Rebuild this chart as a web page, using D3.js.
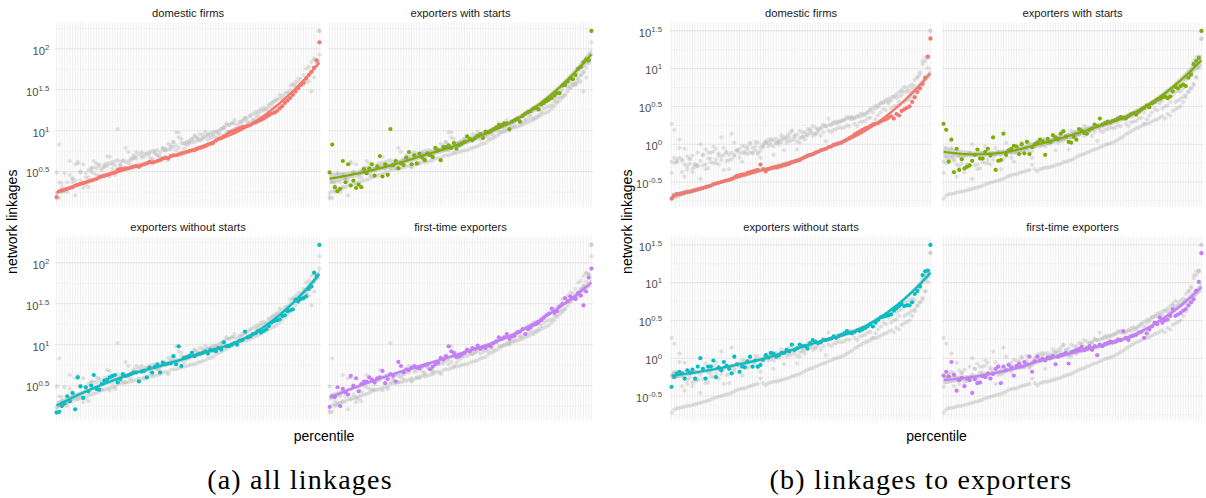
<!DOCTYPE html>
<html>
<head>
<meta charset="utf-8">
<script src="https://cdn.jsdelivr.net/npm/d3@7/dist/d3.min.js"></script>
<style>
body { margin: 0; background: #fff; }
svg { font-family: "Liberation Sans", Arial, sans-serif; }
.strip { font-size: 11.2px; fill: #1a1a1a; }
.tick_lab { font-size: 11.2px; fill: #4d4d4d; }
.axis_title { font-size: 14px; fill: #000; }
.caption { font-family: "Liberation Serif", "Times New Roman", serif; font-size: 28px; fill: #000; letter-spacing: 1.2px; }
</style>
</head>
<body>
<svg id="chart" width="1206" height="498"></svg>
<script>
/* Data: log10 of network linkages by percentile */

var percentile = d3.range(1, 101);
var group_names = ["domestic firms", "exporters with starts", "exporters without starts", "first-time exporters"];
var group_colors = ["#F8766D", "#7CAE00", "#00BFC4", "#C77CFF"];

var a_domestic = [0.19,0.26,0.27,0.28,0.29,0.30,0.31,0.33,0.34,0.35, 0.36,0.37,0.38,0.39,0.40,0.41,0.43,0.44,0.45,0.46,
	0.47,0.48,0.49,0.52,0.53,0.53,0.54,0.54,0.55,0.56, 0.57,0.56,0.58,0.59,0.60,0.62,0.61,0.62,0.63,0.64,
	0.66,0.67,0.66,0.69,0.70,0.70,0.71,0.72,0.73,0.74, 0.75,0.76,0.76,0.78,0.79,0.80,0.81,0.83,0.84,0.85,
	0.88,0.90,0.91,0.93,0.95,0.98,0.99,1.00,1.02,1.03, 1.04,1.05,1.06,1.07,1.09,1.10,1.12,1.13,1.15,1.17,
	1.19,1.21,1.22,1.24,1.27,1.30,1.34,1.37,1.40,1.44, 1.48,1.52,1.56,1.59,1.64,1.68,1.72,1.77,1.86,2.08];
var a_with_starts = [0.49,0.83,0.31,0.26,0.29,0.63,0.37,0.59,0.33,0.39, 0.30,0.34,0.31,0.53,0.48,0.54,0.59,0.45,0.56,0.69,
	0.44,0.59,0.46,1.02,0.58,0.63,0.54,0.60,0.58,0.67, 0.74,0.59,0.70,0.60,0.72,0.67,0.64,0.72,0.70,0.68,
	0.79,0.76,0.64,0.80,0.80,0.82,0.79,0.85,0.78,0.82, 0.84,0.86,0.93,0.90,0.88,0.91,0.94,0.96,0.91,0.99,
	0.98,1.00,1.02,1.04,1.07,1.07,1.09,1.09,1.02,1.11, 1.13,1.14,1.11,1.18,1.21,1.23,1.24,1.27,1.28,1.26,
	1.32,1.34,1.36,1.38,1.40,1.43,1.46,1.46,1.55,1.56, 1.60,1.64,1.63,1.68,1.76,1.78,1.84,1.87,1.86,2.22];
var a_without_starts = [0.17,0.18,0.25,0.28,0.37,0.31,0.41,0.21,0.60,0.49, 0.35,0.48,0.43,0.50,0.63,0.46,0.45,0.52,0.56,0.57,
	0.60,0.62,0.63,0.54,0.58,0.64,0.62,0.63,0.64,0.66, 0.66,0.55,0.67,0.68,0.60,0.72,0.66,0.73,0.76,0.66,
	0.78,0.76,0.77,0.77,0.86,0.76,0.98,0.74,0.84,0.85, 0.86,0.90,0.86,0.88,0.89,0.90,0.92,0.89,0.94,0.93,
	0.92,0.96,0.94,1.03,0.98,0.98,1.00,1.02,1.00,1.05, 1.06,1.16,1.09,1.10,1.13,1.14,1.17,1.15,1.17,1.19,
	1.23,1.27,1.29,1.30,1.31,1.35,1.36,1.41,1.42,1.43, 1.55,1.53,1.56,1.57,1.59,1.68,1.71,1.88,1.84,2.22];
var a_first_time = [0.24,0.37,0.36,0.48,0.25,0.46,0.42,0.39,0.62,0.50, 0.59,0.43,0.52,0.55,0.55,0.60,0.57,0.54,0.59,0.60,
	0.68,0.53,0.58,0.64,0.62,0.55,0.79,0.74,0.66,0.70, 0.69,0.72,0.74,0.72,0.71,0.74,0.75,0.76,0.70,0.73,
	0.76,0.78,0.84,0.82,0.86,0.98,0.92,0.90,0.85,0.86, 0.88,0.90,0.94,0.92,0.96,0.95,0.99,0.95,0.97,0.96,
	0.99,0.98,1.02,1.04,1.09,1.07,1.09,1.13,1.07,1.10, 1.11,1.15,1.16,1.19,1.13,1.19,1.21,1.24,1.25,1.27,
	1.30,1.33,1.36,1.38,1.44,1.39,1.41,1.47,1.50,1.57, 1.53,1.59,1.57,1.56,1.63,1.60,1.48,1.65,1.82,1.93];

var b_domestic = [-0.72,-0.68,-0.66,-0.66,-0.65,-0.64,-0.63,-0.63,-0.62,-0.61, -0.60,-0.59,-0.58,-0.57,-0.56,-0.55,-0.53,-0.52,-0.51,-0.50,
	-0.49,-0.48,-0.47,-0.46,-0.44,-0.42,-0.41,-0.40,-0.40,-0.38, -0.37,-0.36,-0.35,-0.34,-0.27,-0.33,-0.36,-0.33,-0.32,-0.31,
	-0.31,-0.30,-0.29,-0.28,-0.27,-0.26,-0.24,-0.23,-0.22,-0.21, -0.19,-0.17,-0.15,-0.14,-0.13,-0.11,-0.10,-0.08,-0.07,-0.06,
	-0.04,-0.03,-0.01,0.00,0.01,0.02,0.04,0.06,0.08,0.10, 0.13,0.15,0.17,0.19,0.21,0.22,0.24,0.26,0.27,0.28,
	0.30,0.32,0.33,0.35,0.37,0.34,0.40,0.38,0.44,0.46, 0.48,0.50,0.56,0.62,0.69,0.74,0.80,0.88,1.16,1.40];
var b_with_starts = [0.27,0.19,-0.23,0.06,-0.37,-0.06,-0.34,-0.20,-0.32,-0.30, -0.28,-0.22,-0.14,-0.07,-0.19,-0.19,-0.10,-0.06,-0.15,0.09,
	-0.34,-0.22,-0.21,0.14,-0.14,-0.08,-0.06,-0.02,-0.03,-0.13, 0.00,-0.12,0.03,-0.13,-0.04,0.00,0.02,0.06,0.04,-0.14,
	0.07,0.03,0.12,0.09,0.07,0.14,0.17,0.10,0.03,0.02, 0.10,0.06,0.20,0.18,0.15,0.14,0.19,0.21,0.26,0.24,
	0.34,0.26,0.28,0.30,0.29,0.31,0.32,0.34,0.36,0.35, 0.34,0.37,0.40,0.41,0.39,0.43,0.46,0.48,0.51,0.49,
	0.54,0.56,0.59,0.60,0.62,0.63,0.61,0.63,0.70,0.76, 0.74,0.77,0.79,0.77,0.88,0.92,1.06,1.10,1.14,1.50];
var b_without_starts = [-0.38,-0.25,-0.20,-0.18,-0.20,-0.27,-0.16,-0.19,-0.15,-0.27, -0.11,0.00,-0.14,-0.27,-0.11,-0.11,-0.03,-0.25,-0.12,-0.16,
	-0.05,-0.10,-0.14,-0.20,0.02,-0.08,-0.18,-0.11,-0.12,-0.04, 0.02,-0.11,-0.03,-0.11,-0.09,-0.02,0.04,0.01,0.07,0.06,
	0.02,0.04,0.07,0.07,0.11,0.09,0.18,0.11,0.13,0.18, 0.16,0.16,0.13,0.20,0.24,0.22,0.20,0.21,0.24,0.24,
	0.25,0.26,0.29,0.27,0.30,0.31,0.33,0.36,0.34,0.33, 0.35,0.37,0.36,0.38,0.40,0.42,0.45,0.42,0.47,0.51,
	0.54,0.55,0.56,0.57,0.58,0.63,0.66,0.69,0.72,0.69, 0.70,0.70,0.74,0.85,0.89,0.95,1.10,1.15,1.16,1.50];
var b_first_time = [-0.23,-0.18,-0.24,-0.05,-0.22,-0.43,-0.29,-0.26,-0.37,-0.27, -0.29,-0.46,-0.28,-0.33,-0.32,-0.24,-0.25,-0.20,-0.27,-0.21,
	-0.14,-0.11,-0.33,-0.11,-0.16,-0.09,-0.12,-0.23,-0.10,-0.07, -0.11,-0.05,-0.08,0.02,-0.18,-0.04,0.02,-0.03,-0.01,-0.03,
	0.01,0.00,0.03,-0.08,0.02,0.04,0.05,0.07,-0.07,0.08, 0.09,0.11,0.12,0.15,0.11,0.13,0.16,0.11,0.16,0.04,
	0.18,0.16,0.19,0.20,0.22,0.21,0.22,0.25,0.24,0.36, 0.27,0.24,0.29,0.30,0.31,0.34,0.35,0.27,0.33,0.38,
	0.42,0.47,0.45,0.54,0.47,0.50,0.51,0.56,0.65,0.56, 0.58,0.60,0.63,0.65,0.70,0.74,0.78,0.89,1.01,1.39];

var a_ticks = [0.5, 1, 1.5, 2];
var b_ticks = [-0.5, 0, 0.5, 1, 1.5];

/* Layout */

var svg = d3.select("#chart");
var rows = [[22.5, 207], [236.5, 421]];
var panels = [
	{series: [a_domestic, a_with_starts, a_without_starts, a_first_time], ticks: a_ticks,
	 cols: [[55, 321], [328, 593]], lab_gap: 5.7, caption: "(a) all linkages", cap_x: 300, ytitle_x: 16.7},
	{series: [b_domestic, b_with_starts, b_without_starts, b_first_time], ticks: b_ticks,
	 cols: [[670, 932], [942, 1203]], lab_gap: 8, caption: "(b) linkages to exporters", cap_x: 921, ytitle_x: 631.5}
];

/* Loess (degree 2, tricube weights, span 0.75) as geom_smooth does */

function inv3(m){
	var a = m[0][0], b = m[0][1], c = m[0][2],
	    d = m[1][0], e = m[1][1], f = m[1][2],
	    g = m[2][0], h = m[2][1], k = m[2][2];
	var A = e*k - f*h, B = -(d*k - f*g), C = d*h - e*g;
	var det = a*A + b*B + c*C;
	return [[A/det, -(b*k - c*h)/det, (b*f - c*e)/det],
		[B/det, (a*k - c*g)/det, -(a*f - c*d)/det],
		[C/det, -(a*h - b*g)/det, (a*e - b*d)/det]];
}

function loess_row(xs, x0, span){
	var n = xs.length, q = Math.floor(span*n);
	var d = xs.map(function(x){ return Math.abs(x - x0); });
	var h = d.slice().sort(function(p, r){ return p - r; })[q-1];
	var w = d.map(function(v){ var u = v/h; return u < 1 ? Math.pow(1 - u*u*u, 3) : 0; });
	var S = [[0,0,0],[0,0,0],[0,0,0]];
	for (var i = 0; i < n; i++){
		var t = xs[i] - x0, b = [1, t, t*t];
		for (var r = 0; r < 3; r++)
			for (var c = 0; c < 3; c++)
				S[r][c] += w[i]*b[r]*b[c];
	}
	var inv = inv3(S);
	var l = [];
	for (var i = 0; i < n; i++){
		var t = xs[i] - x0;
		l.push(w[i]*(inv[0][0] + inv[0][1]*t + inv[0][2]*t*t));
	}
	return l;
}

function smooth(xs, ys){
	var n = xs.length, rss = 0, delta = 0;
	var L = xs.map(function(x){ return loess_row(xs, x, 0.75); });
	for (var i = 0; i < n; i++){
		var fit = d3.sum(L[i], function(v, j){ return v*ys[j]; });
		rss += (ys[i] - fit)*(ys[i] - fit);
	}
	// one.delta = trace((I-L)'(I-L))
	for (var j = 0; j < n; j++)
		for (var i = 0; i < n; i++){
			var v = (i == j ? 1 : 0) - L[i][j];
			delta += v*v;
		}
	var sigma = Math.sqrt(rss/delta);
	var grid = d3.range(80).map(function(i){ return xs[0] + i*(xs[n-1] - xs[0])/79; });
	return grid.map(function(x0){
		var l = loess_row(xs, x0, 0.75);
		var fit = d3.sum(l, function(v, j){ return v*ys[j]; });
		var se = sigma*Math.sqrt(d3.sum(l, function(v){ return v*v; }));
		return {x: x0, y: fit, lo: fit - 1.98*se, hi: fit + 1.98*se};
	});
}

/* Draw */

function tick_label(g, x, y, v){
	var t = g.append("text")
		.attr("class", "tick_lab")
		.attr("x", x)
		.attr("y", y + 5.8)
		.attr("text-anchor", "end");
	t.append("tspan").text("10");
	t.append("tspan")
		.attr("dy", -5)
		.attr("font-size", "7.8px")
		.text(String(v));
}

function draw_panel(panel){
	var all = [].concat.apply([], panel.series);
	var ext = d3.extent(all), pad = (ext[1] - ext[0])*0.05;
	var minor = [];
	panel.ticks.forEach(function(t){ minor.push(t - 0.25); });
	minor.push(panel.ticks[panel.ticks.length-1] + 0.25);

	for (var k = 0; k < 4; k++){
		var col = panel.cols[k % 2], row = rows[Math.floor(k/2)];
		var x = d3.scaleLinear().domain([0.4, 100.6]).range(col);
		var y = d3.scaleLinear().domain([ext[0] - pad, ext[1] + pad]).range([row[1], row[0]]);
		var f = svg.append("g");

		f.selectAll(".vgrid").data(percentile).enter().append("line")
			.attr("x1", function(d){ return x(d); })
			.attr("x2", function(d){ return x(d); })
			.attr("y1", row[0]).attr("y2", row[1])
			.attr("stroke", "#ebebeb").attr("stroke-width", 0.8);
		f.selectAll(".minor").data(minor.filter(function(v){ return v > y.domain()[0] && v < y.domain()[1]; }))
			.enter().append("line")
			.attr("x1", col[0]).attr("x2", col[1])
			.attr("y1", function(d){ return y(d); })
			.attr("y2", function(d){ return y(d); })
			.attr("stroke", "#ebebeb").attr("stroke-width", 0.6);
		f.selectAll(".major").data(panel.ticks).enter().append("line")
			.attr("x1", col[0]).attr("x2", col[1])
			.attr("y1", function(d){ return y(d); })
			.attr("y2", function(d){ return y(d); })
			.attr("stroke", "#e6e6e6").attr("stroke-width", 1.1);

		// other groups in grey
		for (var s = 0; s < 4; s++){
			if (s == k) continue;
			f.append("g").selectAll("circle").data(panel.series[s]).enter().append("circle")
				.attr("cx", function(d, i){ return x(percentile[i]); })
				.attr("cy", function(d){ return y(d); })
				.attr("r", 2.1)
				.attr("fill", "#bdbdbd")
				.attr("fill-opacity", 0.42);
		}
		f.append("g").selectAll("circle").data(panel.series[k]).enter().append("circle")
			.attr("cx", function(d, i){ return x(percentile[i]); })
			.attr("cy", function(d){ return y(d); })
			.attr("r", 2.1)
			.attr("fill", group_colors[k]);

		var sm = smooth(percentile, panel.series[k]);
		f.append("path")
			.datum(sm)
			.attr("d", d3.area()
				.x(function(d){ return x(d.x); })
				.y0(function(d){ return y(d.lo); })
				.y1(function(d){ return y(d.hi); }))
			.attr("fill", "#999999")
			.attr("fill-opacity", 0.4);
		f.append("path")
			.datum(sm)
			.attr("d", d3.line()
				.x(function(d){ return x(d.x); })
				.y(function(d){ return y(d.y); }))
			.attr("fill", "none")
			.attr("stroke", group_colors[k])
			.attr("stroke-width", 2.2);

		f.append("text")
			.attr("class", "strip")
			.attr("x", (col[0] + col[1])/2)
			.attr("y", row[0] - 5.5)
			.attr("text-anchor", "middle")
			.text(group_names[k]);

		if (k % 2 == 0)
			panel.ticks.forEach(function(t){ tick_label(f, col[0] - panel.lab_gap, y(t), t); });
	}

	svg.append("text")
		.attr("class", "axis_title")
		.attr("transform", "translate(" + panel.ytitle_x + "," + (rows[0][0] + rows[1][1])/2 + ") rotate(-90)")
		.attr("text-anchor", "middle")
		.text("network linkages");
	svg.append("text")
		.attr("class", "axis_title")
		.attr("x", (panel.cols[0][0] + panel.cols[1][1])/2)
		.attr("y", 441)
		.attr("text-anchor", "middle")
		.text("percentile");
	svg.append("text")
		.attr("class", "caption")
		.attr("x", panel.cap_x)
		.attr("y", 488.5)
		.attr("text-anchor", "middle")
		.text(panel.caption);
}

panels.forEach(draw_panel);
</script>
</body>
</html>
